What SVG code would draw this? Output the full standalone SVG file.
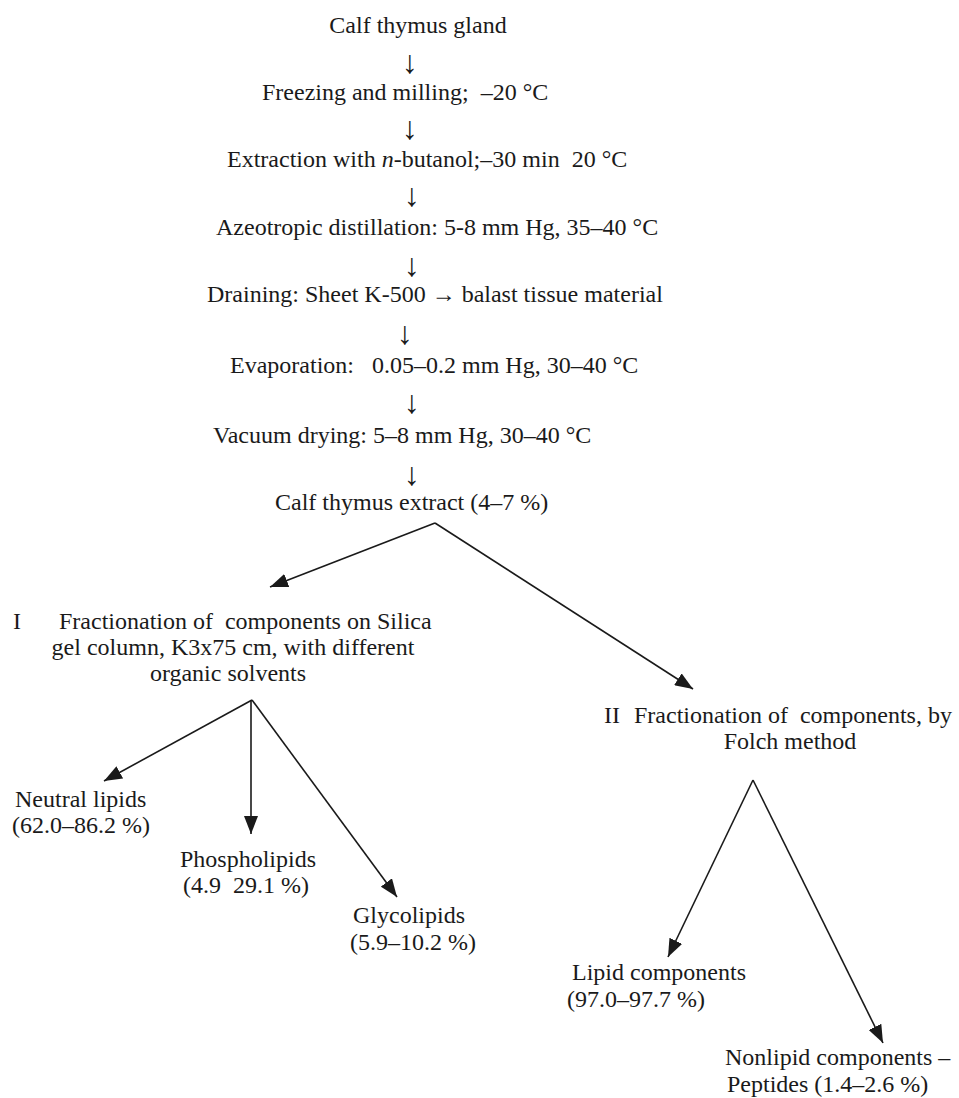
<svg xmlns="http://www.w3.org/2000/svg" width="959" height="1098" viewBox="0 0 959 1098">
<style>
text{font-family:"Liberation Serif","DejaVu Serif",serif;font-size:24px;fill:#1a1a1a;white-space:pre}
.c{text-anchor:middle}
.ar{text-anchor:middle;font-size:32px}
.con line{stroke:#1a1a1a;stroke-width:1.6;fill:none}
</style>
<defs>
<marker id="ah" markerUnits="userSpaceOnUse" markerWidth="19" markerHeight="14" refX="18" refY="7" orient="auto">
<path d="M0,0 L18,7 L0,14 z" fill="#1a1a1a"/>
</marker>
</defs>
<rect width="959" height="1098" fill="#fff"/>
<g id="n1"><text class="c" x="418" y="33">Calf thymus gland</text></g>
<g id="a1"><text class="ar" x="410" y="73">↓</text></g>
<g id="n2"><text x="262" y="100" xml:space="preserve">Freezing and milling;  –20 °C</text></g>
<g id="a2"><text class="ar" x="410" y="139" style="font-weight:bold">↓</text></g>
<g id="n3"><text x="227" y="167" xml:space="preserve">Extraction with <tspan font-style="italic">n</tspan>-butanol;–30 min  20 °C</text></g>
<g id="a3"><text class="ar" x="412" y="206">↓</text></g>
<g id="n4"><text x="216" y="235">Azeotropic distillation: 5‑8 mm Hg, 35–40 °C</text></g>
<g id="a4"><text class="ar" x="412" y="276">↓</text></g>
<g id="n5"><text x="207" y="302">Draining: Sheet K-500 → balast tissue material</text></g>
<g id="a5"><text class="ar" x="405" y="344">↓</text></g>
<g id="n6"><text x="230" y="373" xml:space="preserve">Evaporation:   0.05–0.2 mm Hg, 30–40 °C</text></g>
<g id="a6"><text class="ar" x="412" y="413">↓</text></g>
<g id="n7"><text x="213" y="443">Vacuum drying: 5–8 mm Hg, 30–40 °C</text></g>
<g id="a7"><text class="ar" x="412" y="485">↓</text></g>
<g id="n8"><text x="275" y="510">Calf thymus extract (4–7 %)</text></g>
<g id="nI">
<text x="13" y="629">I</text>
<text x="59" y="629" xml:space="preserve">Fractionation of  components on Silica</text>
<text class="c" x="233" y="655">gel column, K3x75 cm, with different</text>
<text class="c" x="228" y="681">organic solvents</text>
</g>
<g id="nII">
<text x="604" y="723">II</text>
<text x="634" y="723" xml:space="preserve">Fractionation of  components, by</text>
<text class="c" x="790" y="749">Folch method</text>
</g>
<g id="nNeutral">
<text x="15" y="807">Neutral lipids</text>
<text x="12" y="833">(62.0–86.2 %)</text>
</g>
<g id="nPhospho">
<text x="180" y="867">Phospholipids</text>
<text x="183" y="893" xml:space="preserve">(4.9  29.1 %)</text>
</g>
<g id="nGlyco">
<text x="353" y="923">Glycolipids</text>
<text x="350" y="950">(5.9–10.2 %)</text>
</g>
<g id="nLipid">
<text x="572" y="980">Lipid components</text>
<text x="567" y="1007">(97.0–97.7 %)</text>
</g>
<g id="nNonlipid">
<text x="725" y="1065">Nonlipid components –</text>
<text x="727" y="1092">Peptides (1.4–2.6 %)</text>
</g>
<g class="con" id="connectors">
<line x1="435" y1="523" x2="270" y2="587" marker-end="url(#ah)"/>
<line x1="435" y1="523" x2="693" y2="689" marker-end="url(#ah)"/>
<line x1="252" y1="700" x2="104" y2="781" marker-end="url(#ah)"/>
<line x1="251" y1="700" x2="251" y2="834" marker-end="url(#ah)"/>
<line x1="252" y1="700" x2="397" y2="897" marker-end="url(#ah)"/>
<line x1="753" y1="780" x2="668" y2="957" marker-end="url(#ah)"/>
<line x1="753" y1="780" x2="883" y2="1043" marker-end="url(#ah)"/>
</g>
</svg>
